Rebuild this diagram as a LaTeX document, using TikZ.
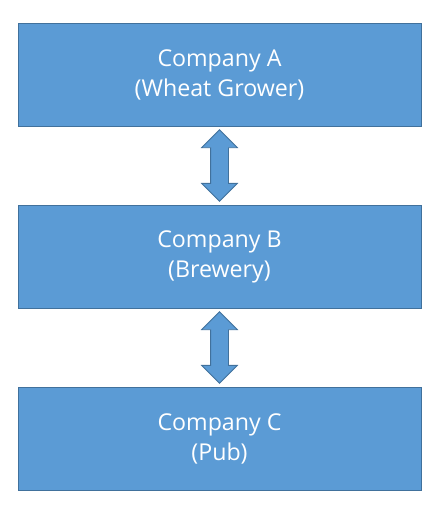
\documentclass[tikz,border=0pt]{standalone}
\usepackage{fontspec}
\setmainfont{Open Sans}
\usepackage{tikz}
\usetikzlibrary{%
  positioning,%
  shapes.arrows
}
\definecolor{boxblue}{HTML}{5B9BD5}
\definecolor{boxedge}{HTML}{41719C}

\begin{document}
\begin{tikzpicture}[
    line join=miter,
    company/.style={rectangle,draw=boxedge,fill=boxblue,line width=0.8pt,
        outer sep=0pt,minimum width=403pt,minimum height=103pt,align=center,
        text=white,font=\fontsize{23.2}{30}\selectfont},
    twoway/.style={double arrow,draw=boxedge,fill=boxblue,line width=0.8pt,
        rotate=90,minimum height=71.5pt,minimum width=35pt,
        inner xsep=0pt,inner ysep=8.5pt,double arrow head extend=9pt},
    node distance=79pt
  ]
    \useasboundingbox (0,0) rectangle (446pt,-509pt);

    \node [company] (growerA) at (219.5pt,-74.5pt) {Company A\\(Wheat Grower)};
    \node [company,below=of growerA] (breweryB) {Company B\\(Brewery)};
    \node [company,below=of breweryB] (pubC)    {Company C\\(Pub)};

    \path (growerA.south) -- (breweryB.north) node [twoway,midway] (ab) {};
    \path (breweryB.south) -- (pubC.north)    node [twoway,midway] (bc) {};
\end{tikzpicture}
\end{document}
